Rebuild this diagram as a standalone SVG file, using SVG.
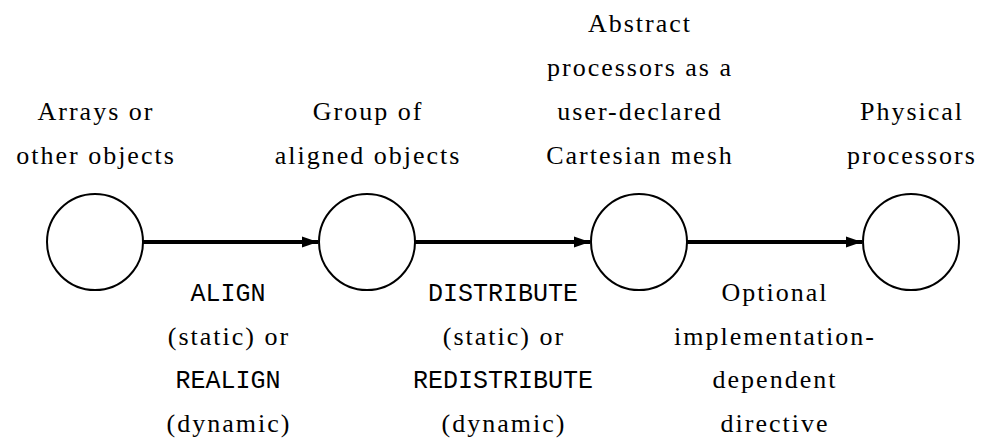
<svg xmlns="http://www.w3.org/2000/svg" width="982" height="440" viewBox="0 0 982 440">
<defs>
<style>
.n{fill:#fff;stroke:#000;stroke-width:2}
.t{font-family:"Liberation Serif","Times New Roman",serif;font-size:26px;letter-spacing:2px;fill:#000;text-anchor:middle}
.m{font-family:"Liberation Mono","Courier New",monospace;font-size:25px;fill:#000;text-anchor:middle}
.e{stroke:#000;stroke-width:4;fill:none}
</style>
<marker id="ah" markerWidth="16" markerHeight="12" refX="16" refY="6" orient="auto" markerUnits="userSpaceOnUse">
<path d="M0,0.5 L16,6 L0,11.5 Z" fill="#000"/>
</marker>
</defs>
<rect width="982" height="440" fill="#fff"/>
<g id="connectors">
<line class="e" x1="143" y1="242" x2="318" y2="242" marker-end="url(#ah)"/>
<line class="e" x1="415" y1="242" x2="590" y2="242" marker-end="url(#ah)"/>
<line class="e" x1="687" y1="242" x2="862" y2="242" marker-end="url(#ah)"/>
<g id="label-align">
<text class="m" x="228" y="301">ALIGN</text>
<text class="t" x="229" y="345">(static) or</text>
<text class="m" x="228" y="388">REALIGN</text>
<text class="t" x="229" y="432">(dynamic)</text>
</g>
<g id="label-distribute">
<text class="m" x="503" y="301">DISTRIBUTE</text>
<text class="t" x="504" y="345">(static) or</text>
<text class="m" x="503" y="388">REDISTRIBUTE</text>
<text class="t" x="504" y="432">(dynamic)</text>
</g>
<g id="label-optional">
<text class="t" x="775" y="301">Optional</text>
<text class="t" x="775" y="345">implementation-</text>
<text class="t" x="775" y="388">dependent</text>
<text class="t" x="775" y="432">directive</text>
</g>
</g>
<g id="arrays">
<circle class="n" cx="95" cy="242" r="48"/>
<text class="t" x="96" y="120">Arrays or</text>
<text class="t" x="96" y="164">other objects</text>
</g>
<g id="group">
<circle class="n" cx="367" cy="242" r="48"/>
<text class="t" x="368" y="120">Group of</text>
<text class="t" x="368" y="164">aligned objects</text>
</g>
<g id="abstract">
<circle class="n" cx="639" cy="242" r="48"/>
<text class="t" x="640" y="32">Abstract</text>
<text class="t" x="640" y="76">processors as a</text>
<text class="t" x="640" y="120">user-declared</text>
<text class="t" x="640" y="164">Cartesian mesh</text>
</g>
<g id="physical">
<circle class="n" cx="911" cy="242" r="48"/>
<text class="t" x="912" y="120">Physical</text>
<text class="t" x="912" y="164">processors</text>
</g>
</svg>
